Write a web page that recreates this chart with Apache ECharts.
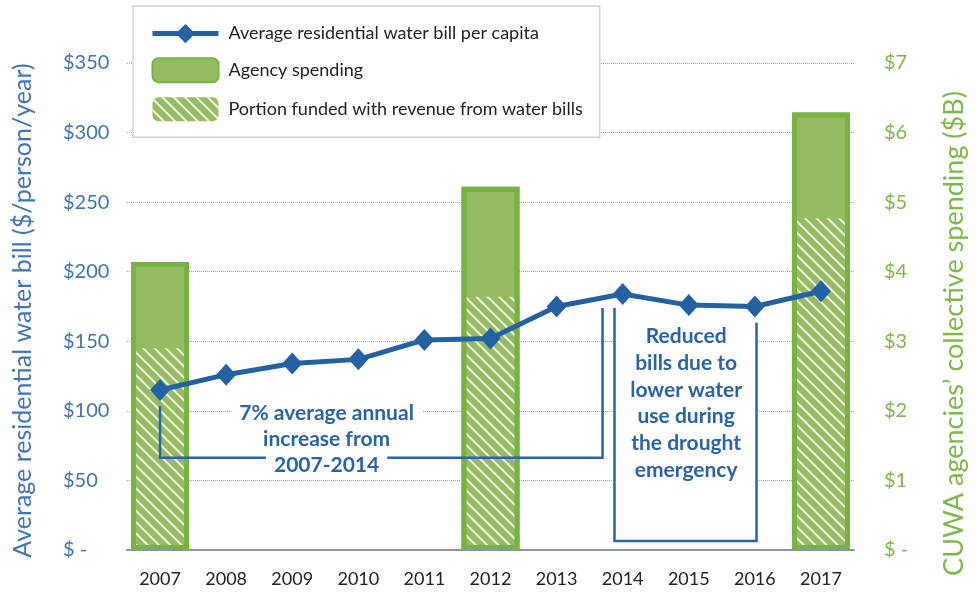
<!DOCTYPE html>
<html style="height: 100%">
<head>
    <meta charset="utf-8">
</head>
<body style="height: 100%; margin: 0; background: #fff">
<div id="container" style="width: 976px; height: 594px"></div>
<script type="text/javascript" src="https://cdn.jsdelivr.net/npm/echarts@6.0.0/dist/echarts.min.js"></script>
<script type="text/javascript">

    // data
    var years = ['2007', '2008', '2009', '2010', '2011', '2012', '2013', '2014', '2015', '2016', '2017'];
    var billPerCapita = [115, 126, 134, 137, 151, 152, 175, 184, 176, 175, 186];      // $/person/year
    var agencySpending = [4.14, '-', '-', '-', '-', 5.22, '-', '-', '-', '-', 6.29];   // $B
    var fundedByBills = [2.9, '-', '-', '-', '-', 3.64, '-', '-', '-', '-', 4.77];     // $B

    var billAxis = {min: 0, max: 350, step: 50};
    var spendAxis = {min: 0, max: 7, step: 1};

    // annotations in data units: [category index, $/person/year]
    var increaseBracket = [[0, 103.5], [0, 66.3], [6.695, 66.3], [6.695, 174]];
    var increaseText = [2.52, 79.8];
    var increaseLines = ['7% average annual', 'increase from', '2007-2014'];
    var droughtBracket = [[6.876, 174], [6.876, 6.5], [9.025, 6.5], [9.025, 163.4]];
    var droughtText = [7.96, 105.4];
    var droughtLines = ['Reduced', 'bills due to', 'lower water', 'use during', 'the drought', 'emergency'];

    var blue = '#2461a3';
    var labelBlue = '#3f74b6';
    var noteBlue = '#2a63a7';
    var darkGreen = '#79b143';
    var lightGreen = '#96bc62';
    var labelGreen = '#7cb84a';
    var font = 'Lato';

    var notes = [
        {bracket: increaseBracket, fill: false, pos: increaseText, lines: increaseLines, lh: 26},
        {bracket: droughtBracket, fill: true, pos: droughtText, lines: droughtLines, lh: 26.7}
    ];

    function money(v) {
        return v === 0 ? '$ -' : '$' + v;
    }

    function renderFill(params, api) {
        var n = notes[params.dataIndex];
        if (!n.fill) return {type: 'group', children: []};
        return {
            type: 'polygon',
            shape: {points: n.bracket.map(function (p) { return api.coord(p); })},
            style: {fill: '#fff', stroke: null}
        };
    }

    function renderNote(params, api) {
        var n = notes[params.dataIndex];
        var c = api.coord(n.pos);
        return {
            type: 'group',
            children: [{
                type: 'polyline',
                shape: {points: n.bracket.map(function (p) { return api.coord(p); })},
                style: {stroke: noteBlue, lineWidth: 2.5, fill: null}
            }, {
                type: 'text',
                x: c[0],
                y: c[1],
                style: {
                    text: n.lines.map(function (l) { return '{a|' + l + '}'; }).join('\n'),
                    align: 'center',
                    verticalAlign: 'middle',
                    rich: {
                        a: {
                            fill: noteBlue,
                            fontFamily: font,
                            fontWeight: 'bold',
                            fontSize: 21,
                            lineHeight: n.lh,
                            backgroundColor: '#fff',
                            padding: [0, 8]
                        }
                    }
                }
            }]
        };
    }

    var chart = echarts.init(document.getElementById('container'));

    var option = {
        animation: false,
        backgroundColor: '#fff',
        textStyle: {fontFamily: font},
        grid: {left: 127, right: 121, top: 63, bottom: 44},
        legend: {
            orient: 'vertical',
            left: 133,
            top: 6,
            padding: [18, 17, 16, 17],
            itemGap: 14,
            itemWidth: 66,
            itemHeight: 24,
            backgroundColor: '#fff',
            borderColor: '#cfd3d6',
            borderWidth: 1.5,
            lineStyle: {width: 5},
            textStyle: {color: '#222', fontSize: 18, fontFamily: font, padding: [0, 0, 0, 5]},
            data: ['Average residential water bill per capita', 'Agency spending',
                'Portion funded with revenue from water bills']
        },
        xAxis: [{
            type: 'category',
            data: years,
            axisTick: {show: false},
            axisLine: {lineStyle: {color: '#8c969c', width: 2}},
            axisLabel: {color: '#222', fontSize: 18, margin: 20}
        }, {
            type: 'value',
            min: -0.5,
            max: 10.5,
            show: false
        }],
        yAxis: [{
            type: 'value',
            min: billAxis.min,
            max: billAxis.max,
            interval: billAxis.step,
            name: 'Average residential water bill ($/person/year)',
            nameLocation: 'middle',
            nameRotate: 90,
            nameGap: 92,
            nameTextStyle: {color: labelBlue, fontSize: 25, padding: [0, 8, 0, 0]},
            axisLine: {show: false},
            axisTick: {show: false},
            axisLabel: {color: labelBlue, fontSize: 20, align: 'left', margin: 64, formatter: money},
            splitLine: {lineStyle: {type: 'dotted', color: '#9aa0a4'}}
        }, {
            type: 'value',
            position: 'right',
            min: spendAxis.min,
            max: spendAxis.max,
            interval: spendAxis.step,
            name: 'CUWA agencies\u2019 collective spending ($B)',
            nameLocation: 'middle',
            nameRotate: 90,
            nameGap: 87,
            nameTextStyle: {color: labelGreen, fontSize: 27, padding: [0, 54, 0, 0]},
            axisLine: {show: false},
            axisTick: {show: false},
            axisLabel: {color: labelGreen, fontSize: 20, align: 'left', margin: 30, formatter: money},
            splitLine: {show: false}
        }],
        series: [{
            name: 'Agency spending',
            type: 'bar',
            yAxisIndex: 1,
            data: agencySpending,
            barWidth: 58,
            barGap: '-100%',
            z: 2,
            itemStyle: {color: lightGreen, borderColor: darkGreen, borderWidth: 5}
        }, {
            name: 'Portion funded with revenue from water bills',
            type: 'bar',
            yAxisIndex: 1,
            data: fundedByBills,
            barWidth: 58,
            barGap: '-100%',
            z: 2,
            itemStyle: {
                color: lightGreen,
                decal: {
                    symbol: 'rect',
                    symbolSize: 1,
                    color: 'rgba(255,255,255,0.85)',
                    dashArrayX: [1, 0],
                    dashArrayY: [1.4, 6],
                    rotation: Math.PI / 4
                }
            }
        }, {
            name: 'outline',
            type: 'bar',
            yAxisIndex: 1,
            data: agencySpending,
            barWidth: 58,
            barGap: '-100%',
            z: 2,
            silent: true,
            itemStyle: {color: 'rgba(0,0,0,0)', borderColor: darkGreen, borderWidth: 5}
        }, {
            name: 'Average residential water bill per capita',
            type: 'line',
            yAxisIndex: 0,
            data: billPerCapita,
            symbol: 'diamond',
            symbolSize: [20, 22],
            z: 3,
            lineStyle: {color: blue, width: 5},
            itemStyle: {color: blue}
        }, {
            name: 'noteFill',
            type: 'custom',
            xAxisIndex: 1,
            yAxisIndex: 0,
            z: 1,
            silent: true,
            data: [[0, 0], [1, 0]],
            renderItem: renderFill
        }, {
            name: 'notes',
            type: 'custom',
            xAxisIndex: 1,
            yAxisIndex: 0,
            z: 4,
            silent: true,
            data: [[0, 0], [1, 0]],
            renderItem: renderNote
        }]
    };

    chart.setOption(option);

</script>
</body>
</html>
